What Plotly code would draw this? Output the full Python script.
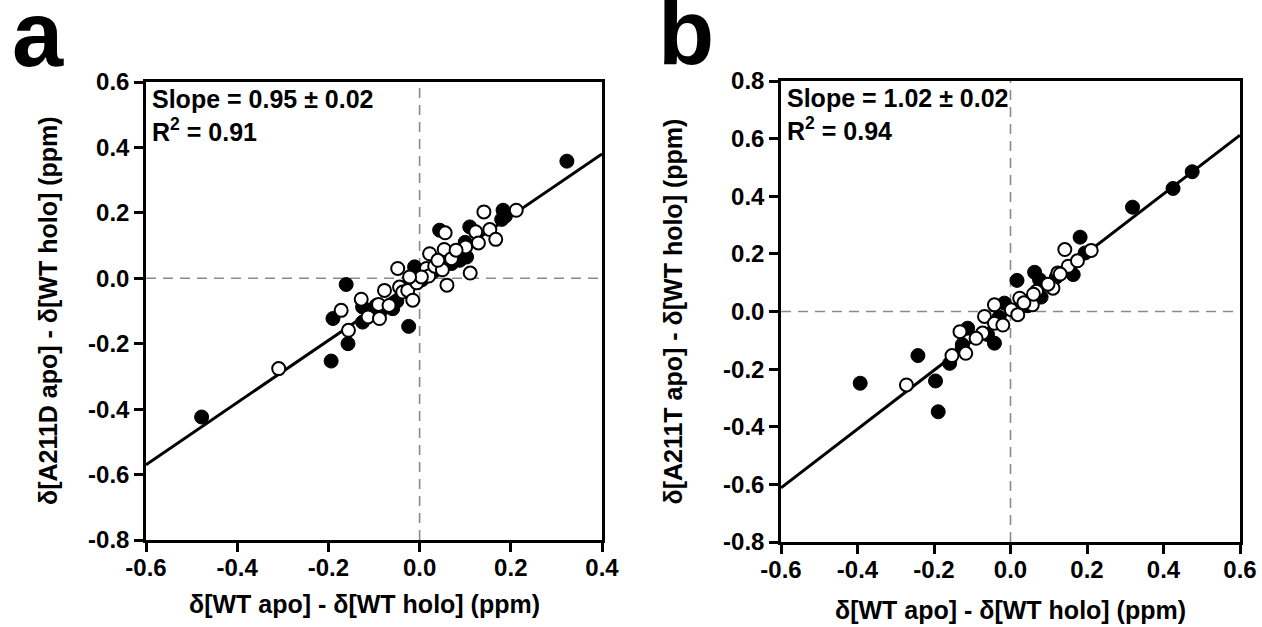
import plotly.graph_objects as go

# ---------------- data ----------------
# Panel a: A211D
a_filled_x = [0.323, -0.478, -0.194, -0.157, -0.161, -0.190, -0.024, -0.125, -0.125, -0.095,
              -0.059, -0.085, -0.050, 0.183, 0.188, 0.110, 0.044, -0.011, 0.088, 0.103,
              0.085, 0.100, 0.070, 0.030, 0.005, 0.180, -0.110]
a_filled_y = [0.358, -0.424, -0.253, -0.200, -0.019, -0.123, -0.147, -0.134, -0.088, -0.083,
              -0.093, -0.100, -0.070, 0.208, 0.190, 0.157, 0.147, 0.035, 0.055, 0.065,
              0.075, 0.110, 0.045, 0.020, -0.005, 0.180, -0.100]
a_open_x = [-0.309, -0.172, -0.156, -0.128, -0.113, -0.088, -0.090, -0.077, -0.067, -0.048,
            -0.044, -0.037, -0.026, -0.015, -0.006, 0.022, 0.015, 0.020, 0.033, 0.050,
            0.054, 0.056, 0.060, 0.070, 0.101, 0.111, 0.123, 0.129, 0.141, 0.154,
            0.167, 0.212, 0.080, 0.040, 0.004, -0.022]
a_open_y = [-0.276, -0.098, -0.159, -0.064, -0.118, -0.123, -0.080, -0.037, -0.083, 0.030,
            -0.027, -0.042, -0.037, -0.067, -0.014, 0.075, 0.030, 0.007, 0.037, 0.026,
            0.088, 0.139, -0.021, 0.060, 0.096, 0.016, 0.142, 0.108, 0.203, 0.149,
            0.119, 0.208, 0.086, 0.055, 0.004, 0.004]

# Panel b: A211T
b_filled_x = [0.475, 0.425, 0.319, 0.182, 0.164, 0.195, 0.063, 0.017, 0.076, -0.016,
              -0.393, -0.242, -0.196, -0.189, -0.159, -0.126, -0.112, -0.042, -0.126, 0.080,
              0.045, -0.030, 0.120, -0.060]
b_filled_y = [0.485, 0.427, 0.362, 0.258, 0.128, 0.203, 0.136, 0.108, 0.110, 0.029,
              -0.249, -0.153, -0.241, -0.348, -0.180, -0.125, -0.058, -0.110, -0.115, 0.050,
              0.020, -0.020, 0.120, -0.080]
b_open_x = [0.211, 0.142, 0.151, 0.175, 0.111, 0.098, 0.124, 0.068, 0.046, 0.024,
            0.002, 0.019, 0.057, -0.042, -0.068, -0.042, -0.020, -0.073, -0.090, -0.132,
            -0.117, -0.153, -0.272, 0.130, 0.035, 0.060]
b_open_y = [0.212, 0.215, 0.157, 0.176, 0.081, 0.095, 0.134, 0.070, 0.035, 0.046,
            0.006, -0.011, 0.023, 0.023, -0.017, -0.041, -0.047, -0.075, -0.093, -0.070,
            -0.145, -0.153, -0.255, 0.130, 0.030, 0.060]

fit_slope = [0.95, 1.02]
fit_intercept = [0.0, 0.0]
x_ranges = [[-0.6, 0.4], [-0.6, 0.6]]
y_ranges = [[-0.8, 0.6], [-0.8, 0.8]]
x_ticks = [[-0.6, -0.4, -0.2, 0.0, 0.2, 0.4], [-0.6, -0.4, -0.2, 0.0, 0.2, 0.4, 0.6]]
y_ticks = [[-0.8, -0.6, -0.4, -0.2, 0.0, 0.2, 0.4, 0.6],
           [-0.8, -0.6, -0.4, -0.2, 0.0, 0.2, 0.4, 0.6, 0.8]]
x_tick_labels = [["-0.6", "-0.4", "-0.2", "0.0", "0.2", "0.4"],
                 ["-0.6", "-0.4", "-0.2", "0.0", "0.2", "0.4", "0.6"]]
y_tick_labels = [["-0.8", "-0.6", "-0.4", "-0.2", "0.0", "0.2", "0.4", "0.6"],
                 ["-0.8", "-0.6", "-0.4", "-0.2", "0.0", "0.2", "0.4", "0.6", "0.8"]]
slope_texts = ["Slope = 0.95 ± 0.02", "Slope = 1.02 ± 0.02"]
r2_texts = ["R<sup>2</sup> = 0.91", "R<sup>2</sup> = 0.94"]
y_titles = ["δ[A211D apo] - δ[WT holo] (ppm)", "δ[A211T apo] - δ[WT holo] (ppm)"]
x_title = "δ[WT apo] - δ[WT holo] (ppm)"
panel_labels = ["a", "b"]

# ---------------- layout helpers ----------------
W, H = 1262, 627
FONT = "Liberation Sans, Arial, sans-serif"
boxes = [(146, 602, 82, 540), (781, 1240, 81, 542)]  # left,right,top,bottom px
y_title_x = [48, 672]
x_title_y = [604, 610]
label_pos = [(10, 34), (656, 32)]


def px(x):
    return x / W


def py(y):
    return 1 - y / H


fig = go.Figure()

series = [
    (a_filled_x, a_filled_y, a_open_x, a_open_y),
    (b_filled_x, b_filled_y, b_open_x, b_open_y),
]

for i, (fx, fy, ox, oy) in enumerate(series):
    xa = "x" if i == 0 else "x2"
    ya = "y" if i == 0 else "y2"
    lx = x_ranges[i]
    fig.add_trace(go.Scatter(
        x=lx, y=[fit_slope[i] * v + fit_intercept[i] for v in lx],
        mode="lines", line=dict(color="black", width=3),
        xaxis=xa, yaxis=ya, showlegend=False, hoverinfo="skip", cliponaxis=True))
    fig.add_trace(go.Scatter(
        x=fx, y=fy, mode="markers",
        marker=dict(size=14, color="black", line=dict(color="black", width=1)),
        xaxis=xa, yaxis=ya, showlegend=False))
    fig.add_trace(go.Scatter(
        x=ox, y=oy, mode="markers",
        marker=dict(size=13, color="white", line=dict(color="black", width=2)),
        xaxis=xa, yaxis=ya, showlegend=False))

axis_common = dict(
    showgrid=False, zeroline=False, showline=True, linecolor="black", linewidth=2.5,
    mirror=True, ticks="outside", ticklen=9, tickwidth=2.5, tickcolor="black",
    tickfont=dict(family=FONT, size=24, color="black", weight="bold"),
    automargin=False, tickmode="array",
)

for i, (l, r, t, b) in enumerate(boxes):
    sfx = "" if i == 0 else "2"
    fig.update_layout(**{
        "xaxis" + sfx: dict(axis_common, domain=[px(l), px(r)], range=x_ranges[i],
                            tickvals=x_ticks[i], ticktext=x_tick_labels[i],
                            ticklabelstandoff=-5, anchor="y" + sfx),
        "yaxis" + sfx: dict(axis_common, domain=[py(b), py(t)], range=y_ranges[i],
                            tickvals=y_ticks[i], ticktext=y_tick_labels[i],
                            anchor="x" + sfx),
    })
    xr = "x" + sfx
    yr = "y" + sfx
    # dashed zero lines
    fig.add_shape(type="line", xref=xr, yref=yr + " domain", x0=0, x1=0, y0=0, y1=1,
                  line=dict(color="#8a8a8a", width=1.6, dash="10px,7px"), layer="below")
    fig.add_shape(type="line", xref=xr + " domain", yref=yr, x0=0, x1=1, y0=0, y1=0,
                  line=dict(color="#8a8a8a", width=1.6, dash="10px,7px"), layer="below")
    # stats text
    fig.add_annotation(x=px(l + 4), y=py(t + 1), xref="paper", yref="paper",
                       xanchor="left", yanchor="top", text=slope_texts[i], showarrow=False,
                       font=dict(family=FONT, size=25, color="black", weight="bold"))
    fig.add_annotation(x=px(l + 4), y=py(t + 30), xref="paper", yref="paper",
                       xanchor="left", yanchor="top", text=r2_texts[i], showarrow=False,
                       font=dict(family=FONT, size=25, color="black", weight="bold"))
    # axis titles
    fig.add_annotation(x=px((l + r) / 2 - (10 if i == 0 else 0)), y=py(x_title_y[i]),
                       xref="paper", yref="paper", xanchor="center", yanchor="middle",
                       text=x_title, showarrow=False,
                       font=dict(family=FONT, size=25, color="black", weight="bold"))
    fig.add_annotation(x=px(y_title_x[i]), y=py((t + b) / 2), xref="paper", yref="paper",
                       xanchor="center", yanchor="middle", textangle=-90,
                       text=y_titles[i], showarrow=False,
                       font=dict(family=FONT, size=25, color="black", weight="bold"))
    # panel label
    fig.add_annotation(x=px(label_pos[i][0]), y=py(label_pos[i][1]),
                       xref="paper", yref="paper", xanchor="left", yanchor="middle",
                       text=panel_labels[i], showarrow=False,
                       font=dict(family=FONT, size=92, color="black", weight="bold"))

fig.update_layout(
    width=W, height=H, margin=dict(l=0, r=0, t=0, b=0),
    paper_bgcolor="white", plot_bgcolor="white", showlegend=False,
)

fig.write_html("out.html", config={"displayModeBar": False},
               post_script="document.body.style.margin='0';document.body.style.overflow='hidden';")
